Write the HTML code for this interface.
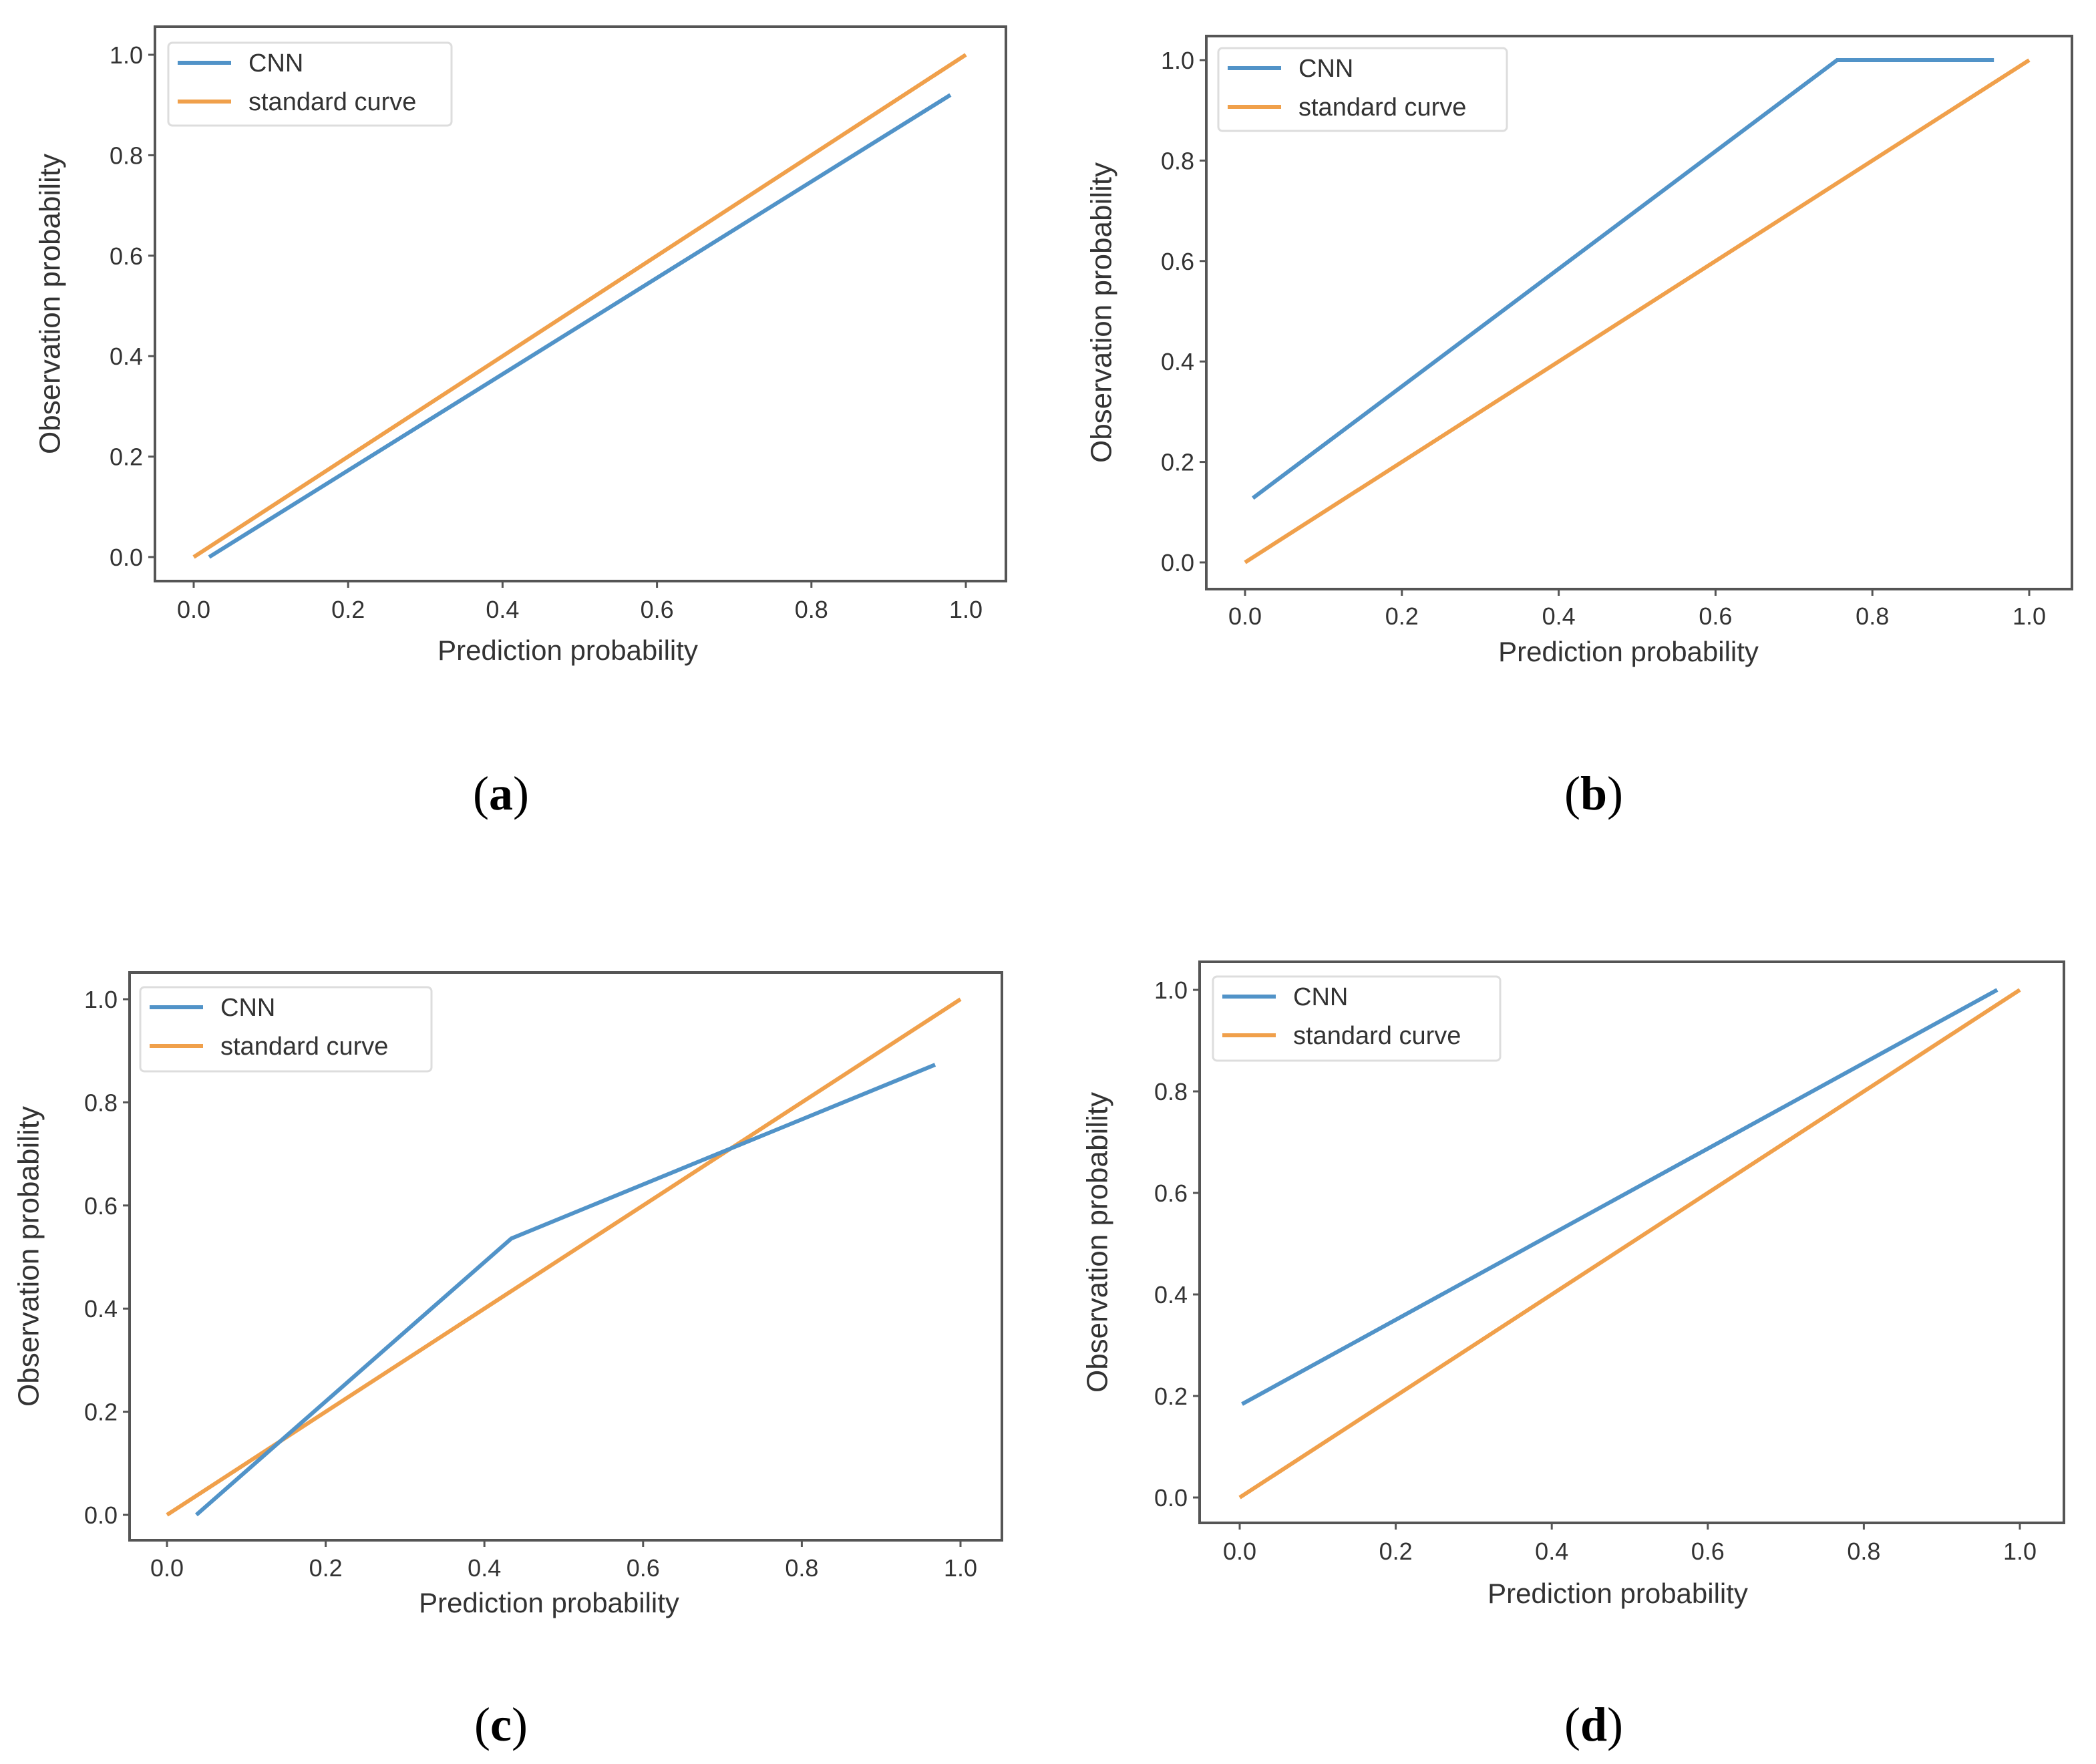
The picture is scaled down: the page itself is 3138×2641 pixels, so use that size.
<!DOCTYPE html>
<html><head><meta charset="utf-8">
<style>
html,body{margin:0;padding:0;background:#fff;}
svg{display:block;}
text{font-family:"Liberation Sans",sans-serif;fill:#333;}
.cap{font-family:"Liberation Serif",serif;fill:#000;font-size:72px;}
</style></head>
<body>
<svg id="fig" width="3138" height="2641" viewBox="0 0 3138 2641" xmlns="http://www.w3.org/2000/svg"></svg>
<script>
const tickValues = [0, 0.2, 0.4, 0.6, 0.8, 1.0];
const tickLabels = ["0.0", "0.2", "0.4", "0.6", "0.8", "1.0"];
const seriesNames = ["CNN", "standard curve"];
const cnnA_x = [0.02, 0.98];
const cnnA_y = [0.0, 0.92];
const cnnB_x = [0.01, 0.755, 0.955];
const cnnB_y = [0.128, 1.0, 1.0];
const cnnC_x = [0.037, 0.434, 0.968];
const cnnC_y = [0.0, 0.536, 0.873];
const cnnD_x = [0.003, 0.971];
const cnnD_y = [0.184, 1.0];
const stdX = [0.0, 1.0];
const stdY = [0.0, 1.0];
const panelLabels = ["a", "b", "c", "d"];

const NS = "http://www.w3.org/2000/svg";
const svg = document.getElementById("fig");
function mk(tag, attrs, parent) {
  const e = document.createElementNS(NS, tag);
  for (const k in attrs) e.setAttribute(k, attrs[k]);
  (parent || svg).appendChild(e);
  return e;
}
const panels = [
  {box:[232,40,1506,870], x0:290, x1:1446, y0:834, y1:82, tickY:925, titleY:988, titleX:850, ytX:78, leg:[252,64,676,188], cx:cnnA_x, cy:cnnA_y, cap:[750,1212]},
  {box:[1806,54,3102,882], x0:1864, x1:3038, y0:842, y1:90, tickY:935, titleY:990, titleX:2438, ytX:1652, leg:[1824,72,2256,196], cx:cnnB_x, cy:cnnB_y, cap:[2386,1212]},
  {box:[194,1456,1500,2306], x0:250, x1:1438, y0:2268, y1:1496, tickY:2360, titleY:2414, titleX:822, ytX:46, leg:[210,1478,646,1604], cx:cnnC_x, cy:cnnC_y, cap:[750,2606]},
  {box:[1796,1440,3090,2280], x0:1856, x1:3024, y0:2242, y1:1482, tickY:2335, titleY:2400, titleX:2422, ytX:1646, leg:[1816,1462,2246,1588], cx:cnnD_x, cy:cnnD_y, cap:[2386,2606]}
];
panels.forEach((p, i) => {
  const g = mk("g", {});
  
  
  const sx = v => p.x0 + v * (p.x1 - p.x0);
  const sy = v => p.y0 + v * (p.y1 - p.y0);
  const [l, t, r, b] = p.box;
  const frame = mk("rect", {x:l, y:t, width:r-l, height:b-t, fill:"#fff", stroke:"#555", "stroke-width":4}, g);
  
  
  tickValues.forEach((v, k) => {
    mk("line", {x1:sx(v), x2:sx(v), y1:b, y2:b+10, stroke:"#555", "stroke-width":3}, g);
    const tx = mk("text", {x:sx(v), y:p.tickY, "font-size":36, "text-anchor":"middle"}, g);
    tx.textContent = tickLabels[k];
    
    
    mk("line", {x1:l-10, x2:l, y1:sy(v), y2:sy(v), stroke:"#555", "stroke-width":3}, g);
    const ty = mk("text", {x:l-18, y:sy(v)+13, "font-size":36, "text-anchor":"end"}, g);
    ty.textContent = tickLabels[k];
    
    
  });
  const xt = mk("text", {x:p.titleX, y:p.titleY, "font-size":42, "text-anchor":"middle"}, g);
  xt.textContent = "Prediction probability";
  
  
  const cyv = (t + b) / 2;
  const yt = mk("text", {x:p.ytX, y:cyv, "font-size":44, "text-anchor":"middle", transform:`rotate(-90 ${p.ytX} ${cyv})`, "dominant-baseline":"middle"}, g);
  yt.textContent = "Observation probability";
  
  
  const stdPts = stdX.map((x, k) => sx(x) + "," + sy(stdY[k])).join(" ");
  const sl = mk("polyline", {points:stdPts, fill:"none", stroke:"#f0a04b", "stroke-width":6}, g);
  
  
  const cnnPts = p.cx.map((x, k) => sx(x) + "," + sy(p.cy[k])).join(" ");
  const cl = mk("polyline", {points:cnnPts, fill:"none", stroke:"#5193c8", "stroke-width":6}, g);
  
  
  const [ll, lt, lr, lb] = p.leg;
  const lg = mk("g", {}, g);
  
  
  mk("rect", {x:ll, y:lt, width:lr-ll, height:lb-lt, fill:"#fff", stroke:"#ddd", "stroke-width":3, rx:6}, lg);
  const colors = ["#5193c8", "#f0a04b"];
  seriesNames.forEach((n, k) => {
    const yy = lt + 30 + k * 58;
    mk("line", {x1:ll+14, x2:ll+94, y1:yy, y2:yy, stroke:colors[k], "stroke-width":6}, lg);
    const lt2 = mk("text", {x:ll+120, y:yy+13, "font-size":38}, lg);
    lt2.textContent = n;
    
    
  });
  const cap = mk("text", {x:p.cap[0], y:p.cap[1], "text-anchor":"middle", class:"cap"}, svg);
  cap.innerHTML = '(<tspan font-weight="bold">' + panelLabels[i] + '</tspan>)';
  
  
});
</script>
</body></html>
